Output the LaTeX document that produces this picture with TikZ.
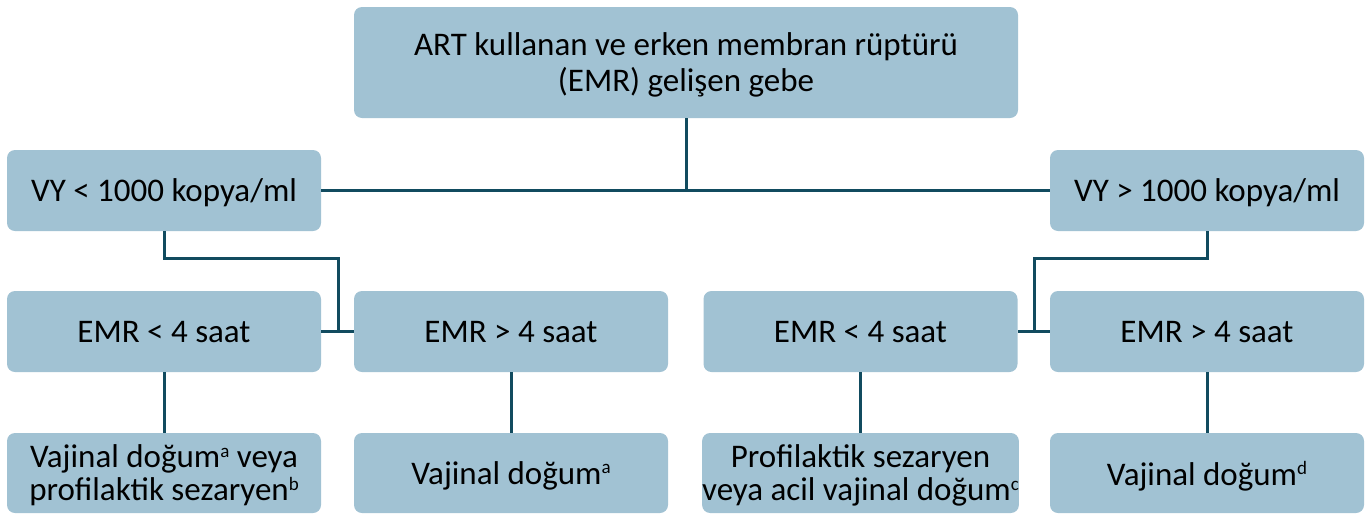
\documentclass[tikz,border=0pt]{standalone}
\usepackage{fontspec}
\setmainfont{Carlito}
\usepackage{xcolor}
\definecolor{boxfill}{HTML}{A1C2D3}
\definecolor{linecol}{HTML}{114B5F}
\newcommand{\sy}[1]{\raisebox{0.33em}{\fontsize{9.5}{9.5}\selectfont #1}}
\begin{document}
\begin{tikzpicture}[x=0.5pt,y=-0.5pt]
	\useasboundingbox (0,0) rectangle (1370,515);
	\begin{scope}[every node/.style={fill=boxfill,rounded corners=4pt,minimum width=157pt,minimum height=40.5pt,
			align=center,inner sep=0pt,text depth=0pt,font=\fontsize{16.5}{16.5}\selectfont}]
		\node[minimum width=332pt,minimum height=55.5pt,font=\fontsize{16.5}{18}\selectfont] (top) at (686,62.5) {ART kullanan ve erken membran rüptürü\\(EMR) gelişen gebe};
		\node (vyl) at (164,190.5) {VY < 1000 kopya/ml};
		\node (vyr) at (1207,190.5) {VY > 1000 kopya/ml};
		\node (e1) at (164,331.5) {EMR < 4 saat};
		\node (e2) at (511,331.5) {EMR > 4 saat};
		\node (e3) at (860.5,331.5) {EMR < 4 saat};
		\node (e4) at (1207,331.5) {EMR > 4 saat};
		\node[minimum height=40pt] (d1) at (164,473) {Vajinal doğum\sy{a} veya\\profilaktik sezaryen\sy{b}};
		\node[minimum height=40pt] (d2) at (511,473) {Vajinal doğum\sy{a}};
		\node[minimum height=40pt] (d3) at (860.5,473) {Profilaktik sezaryen\\veya acil vajinal doğum\sy{c}};
		\node[minimum height=40pt] (d4) at (1207,473) {Vajinal doğum\sy{d}};
	\end{scope}

	\coordinate (jl) at (338,258);
	\coordinate (jr) at (1034,258);
	\begin{scope}[draw=linecol,line width=1.5pt]
		\draw (top) -- (top |- vyl);
		\draw (vyl) -- (vyr);
		\draw (vyl) |- (jl) -- (jl |- e1);
		\draw (vyr) |- (jr) -- (jr |- e3);
		\draw (e1) -- (e2);
		\draw (e3) -- (e4);
		\draw (e1) -- (d1);
		\draw (e2) -- (d2);
		\draw (e3) -- (d3);
		\draw (e4) -- (d4);
	\end{scope}
\end{tikzpicture}
\end{document}
